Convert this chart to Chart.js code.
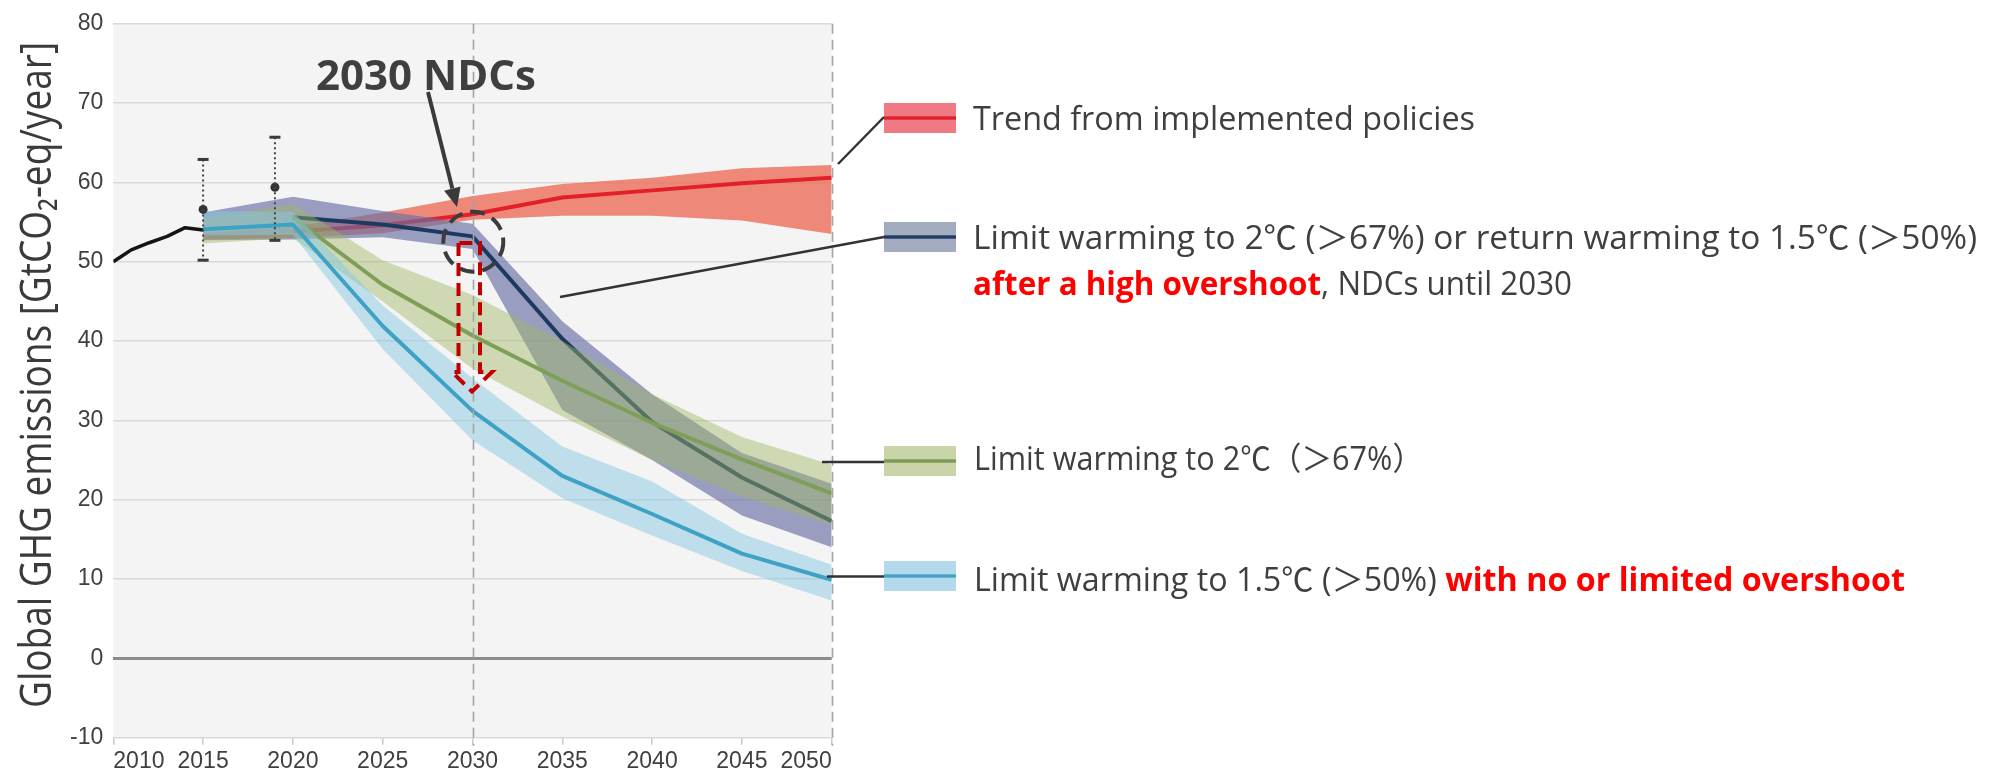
<!DOCTYPE html>
<html><head><meta charset="utf-8">
<script src="https://cdn.jsdelivr.net/npm/chart.js@4.4.1/dist/chart.umd.min.js"></script>
<style>html,body{margin:0;padding:0;background:#fff;}canvas{display:block;}</style>
</head><body>
<canvas id="c" width="2000" height="774" style="width:2000px;height:774px"></canvas>
<script>
// ---------------- data ----------------
const years = [2015, 2020, 2025, 2030, 2035, 2040, 2045, 2050];
const histYears = [2010, 2011, 2012, 2013, 2014, 2015];
const histValues = [50.0, 51.5, 52.4, 53.2, 54.3, 54.0];

const policyMid  = [null, 53.8, 54.6, 56.0, 58.1, 59.0, 59.9, 60.6];
const policyHigh = [53.6, 54.4, 56.2, 58.3, 59.8, 60.6, 61.8, 62.2];
const policyLow  = [52.8, 53.0, 53.6, 55.3, 55.8, 55.8, 55.2, 53.5];

const ndcMid  = [null, 55.6, 54.7, 53.2, 40.3, 29.8, 22.8, 17.3];
const ndcHigh = [56.2, 58.2, 56.4, 54.8, 42.5, 33.3, 25.9, 22.0];
const ndcLow  = [52.7, 52.8, 53.1, 51.6, 31.3, 25.0, 18.0, 14.0];

const c2Mid  = [null, 55.6, 47.1, 40.7, 35.0, 29.7, 25.1, 20.8];
const c2High = [55.5, 57.3, 50.2, 45.8, 40.0, 33.3, 27.9, 24.4];
const c2Low  = [52.3, 53.0, 45.0, 36.5, 30.5, 25.0, 20.4, 16.8];

const c15Mid  = [54.1, 54.7, 41.9, 31.2, 23.0, 18.2, 13.2, 9.9];
const c15High = [56.4, 56.3, 44.5, 35.3, 26.7, 22.3, 15.7, 11.8];
const c15Low  = [53.3, 53.4, 39.0, 27.5, 20.2, 15.5, 11.0, 7.3];

const estYears  = [2015, 2019];
const estValues = [56.6, 59.4];
const estLow    = [50.2, 52.7];
const estHigh   = [62.9, 65.7];

const xTicks = [2010, 2015, 2020, 2025, 2030, 2035, 2040, 2045, 2050];
const yMin = -10, yMax = 80, yStep = 10;
const markerYears = [2030, 2050];

const yTitle = 'Global GHG emissions [GtCO\u2082-eq/year]';
const legendItems = [
  {lines: [[{t: 'Trend from implemented policies'}]]},
  {lines: [[{t: 'Limit warming to 2\u2103 (\uFF1E67%) or return warming to 1.5\u2103 (\uFF1E50%)'}],
           [{t: 'after a high overshoot', bold: true, red: true}, {t: ', NDCs until 2030'}]]},
  {lines: [[{t: 'Limit warming to 2\u2103\uFF08\uFF1E67%\uFF09'}]]},
  {lines: [[{t: 'Limit warming to 1.5\u2103 (\uFF1E50%) '}, {t: 'with no or limited overshoot', bold: true, red: true}]]}
];
const noteText = '2030 NDCs';

// ---------------- helpers ----------------
function pts(xs, ys) {
  const out = [];
  xs.forEach((x, i) => { if (ys[i] !== null) out.push({x: x, y: ys[i]}); });
  return out;
}
const BG = '#f4f4f4';
const TXT = '#3f3f3f';
const FONT = '"Open Sans","Noto Sans CJK JP",sans-serif';

function lineDs(label, xs, ys, color, width, order) {
  return {label, data: pts(xs, ys), borderColor: color, borderWidth: width, pointRadius: 0,
          fill: false, order, tension: 0, borderJoinStyle: 'round', borderCapStyle: 'butt'};
}
function bandDs(label, xs, hi, lo, color, order) {
  return [
    {label: label + ' high', data: pts(xs, hi), borderColor: 'rgba(0,0,0,0)', borderWidth: 0.01,
     pointRadius: 0, fill: '+1', backgroundColor: color, order, tension: 0},
    {label: label + ' low', data: pts(xs, lo), borderColor: 'rgba(0,0,0,0)', borderWidth: 0.01,
     pointRadius: 0, fill: false, order, tension: 0}
  ];
}

const datasets = [
  lineDs('history', histYears, histValues, '#151515', 3.5, 0),
  {label: 'estimates', data: pts(estYears, estValues), showLine: false, pointRadius: 4.5,
   pointBackgroundColor: '#333', pointBorderWidth: 0, order: 0},
  lineDs('1.5C', years, c15Mid, '#3da2c3', 4, 1),
  ...bandDs('1.5C', years, c15High, c15Low, 'rgba(135,200,225,0.5)', 2),
  lineDs('2C', years, c2Mid, '#7f9e58', 4, 3),
  ...bandDs('2C', years, c2High, c2Low, 'rgba(160,185,100,0.45)', 4),
  lineDs('NDC', years, ndcMid, '#1c3a60', 4, 5),
  ...bandDs('NDC', years, ndcHigh, ndcLow, 'rgba(105,110,165,0.65)', 6),
  lineDs('policy', years, policyMid, '#e1202a', 4, 7),
  ...bandDs('policy', years, policyHigh, policyLow, 'rgba(236,110,90,0.8)', 8)
];

// ---------------- plugins ----------------
const bgPlugin = {
  id: 'bg',
  beforeDraw(chart) {
    const {ctx, chartArea: a} = chart;
    ctx.save(); ctx.fillStyle = BG; ctx.fillRect(a.left, a.top, a.right - a.left, a.bottom - a.top); ctx.restore();
  }
};

const overlayPlugin = {
  id: 'overlay',
  afterDatasetsDraw(chart) {
    const {ctx, chartArea: a, scales: {x, y}} = chart;
    ctx.save();
    // vertical dashed markers
    ctx.strokeStyle = '#a3a3a3'; ctx.lineWidth = 1.6; ctx.setLineDash([10, 6]);
    markerYears.forEach(v => {
      const px = Math.round(x.getPixelForValue(v)) + 0.5;
      ctx.beginPath(); ctx.moveTo(px, a.top); ctx.lineTo(px, a.bottom + 8); ctx.stroke();
    });
    // error bars
    ctx.strokeStyle = '#444'; ctx.lineWidth = 2; ctx.setLineDash([2, 3]);
    estYears.forEach((v, i) => {
      const px = x.getPixelForValue(v);
      ctx.beginPath(); ctx.moveTo(px, y.getPixelForValue(estHigh[i])); ctx.lineTo(px, y.getPixelForValue(estLow[i])); ctx.stroke();
    });
    ctx.setLineDash([]); ctx.lineWidth = 3; ctx.strokeStyle = '#3a3a3a';
    estYears.forEach((v, i) => {
      const px = x.getPixelForValue(v);
      [estHigh[i], estLow[i]].forEach(w => {
        const py = y.getPixelForValue(w);
        ctx.beginPath(); ctx.moveTo(px - 5.5, py); ctx.lineTo(px + 5.5, py); ctx.stroke();
      });
    });
    ctx.restore();
  },
  afterDraw(chart) {
    const ctx = chart.ctx;
    ctx.save();
    // ---- y axis title ----
    ctx.fillStyle = '#3a3a3a';
    ctx.font = '43px ' + FONT;
    const tw = ctx.measureText(yTitle).width;
    ctx.translate(51, 375); ctx.rotate(-Math.PI / 2); ctx.scale(666 / tw, 1);
    ctx.textAlign = 'center'; ctx.textBaseline = 'alphabetic';
    ctx.fillText(yTitle, 0, 0);
    ctx.restore();

    // ---- leader lines ----
    ctx.save();
    ctx.strokeStyle = '#333'; ctx.lineWidth = 2.5; ctx.lineCap = 'butt';
    const leaders = [[838, 164, 884, 117], [560, 297, 884, 237], [822, 462, 884, 462], [827, 576.5, 884, 576.5]];
    leaders.forEach(l => { ctx.beginPath(); ctx.moveTo(l[0], l[1]); ctx.lineTo(l[2], l[3]); ctx.stroke(); });

    // ---- swatches ----
    const sw = [
      {top: 103, bg: '#f07a84', ln: '#e21f2c'},
      {top: 222, bg: '#a4acc0', ln: '#1f3d63'},
      {top: 446, bg: '#c9d4a9', ln: '#7b9a55'},
      {top: 561, bg: '#b3daeb', ln: '#4aa2c4'}
    ];
    sw.forEach(s => {
      ctx.fillStyle = s.bg; ctx.fillRect(884, s.top, 72, 30);
      ctx.fillStyle = s.ln; ctx.fillRect(884, s.top + 13.3, 72, 3.4);
    });

    // ---- legend texts ----
    function rich(segs, x0, base, size, targetW) {
      let w = 0;
      segs.forEach(s => { ctx.font = (s.bold ? 'bold ' : '') + size + 'px ' + FONT; s.w = ctx.measureText(s.t).width; w += s.w; });
      const sx = targetW ? targetW / w : 1;
      ctx.save(); ctx.translate(x0, base); ctx.scale(sx, 1);
      let cx = 0;
      segs.forEach(s => {
        ctx.font = (s.bold ? 'bold ' : '') + size + 'px ' + FONT;
        ctx.fillStyle = s.red ? '#ff0000' : TXT;
        ctx.textBaseline = 'alphabetic'; ctx.textAlign = 'left';
        ctx.fillText(s.t, cx, 0); cx += s.w;
      });
      ctx.restore();
    }
    rich(legendItems[0].lines[0], 973, 130, 32, 502);
    rich(legendItems[1].lines[0], 973, 248.5, 32, 1004);
    rich(legendItems[1].lines[1], 973, 295, 32, 599);
    rich(legendItems[2].lines[0], 974, 470, 32, 449);
    rich(legendItems[3].lines[0], 974, 590.5, 32, 931);

    // ---- "2030 NDCs" label and arrow ----
    rich([{t: noteText, bold: true}], 316, 89.5, 41, 220);
    ctx.fillStyle = '#3a3a3a';
    ctx.strokeStyle = '#3a3a3a'; ctx.lineWidth = 4;
    const ax0 = 428, ay0 = 92, ax1 = 457, ay1 = 207;
    const ang = Math.atan2(ay1 - ay0, ax1 - ax0);
    const hl = 19, hw = 8.5;
    const bx = ax1 - hl * Math.cos(ang), by = ay1 - hl * Math.sin(ang);
    ctx.beginPath(); ctx.moveTo(ax0, ay0); ctx.lineTo(bx, by); ctx.stroke();
    ctx.beginPath();
    ctx.moveTo(ax1, ay1);
    ctx.lineTo(bx + hw * Math.sin(ang), by - hw * Math.cos(ang));
    ctx.lineTo(bx - hw * Math.sin(ang), by + hw * Math.cos(ang));
    ctx.closePath(); ctx.fill();

    // ---- dashed circle ----
    ctx.setLineDash([15, 8]); ctx.lineWidth = 4; ctx.strokeStyle = '#3c3c3c';
    ctx.beginPath(); ctx.arc(473.3, 241.7, 30, 0, Math.PI * 2); ctx.stroke();

    // ---- red dashed hollow arrow ----
    ctx.setLineDash([13, 7]); ctx.strokeStyle = '#c00000'; ctx.lineWidth = 4; ctx.lineJoin = 'miter';
    ctx.beginPath();
    ctx.moveTo(458.5, 243); ctx.lineTo(458.5, 372); ctx.lineTo(452, 372); ctx.lineTo(472, 391.5);
    ctx.lineTo(492, 372); ctx.lineTo(480, 372); ctx.lineTo(480, 243); ctx.closePath();
    ctx.stroke();
    ctx.restore();
  }
};

// ---------------- chart ----------------
const tickFont = {family: '"Liberation Sans Narrow","Arial Narrow","Liberation Sans",sans-serif', size: 23};
new Chart(document.getElementById('c'), {
  type: 'line',
  data: {datasets},
  options: {
    responsive: false, animation: false, events: [],
    layout: {padding: {top: 15.7, right: 1168.3, left: 0, bottom: 0}},
    plugins: {legend: {display: false}, tooltip: {enabled: false}, filler: {propagate: false}},
    scales: {
      x: {
        type: 'linear', min: 2010, max: 2050, offset: false,
        afterBuildTicks: s => { s.ticks = xTicks.map(v => ({value: v})); },
        afterFit: s => { s.height = 36.3; },
        grid: {display: true, drawOnChartArea: false, drawTicks: true, tickLength: 7, color: '#c9c9c9', lineWidth: 1.5},
        border: {display: false},
        ticks: {font: tickFont, color: TXT, padding: 3, autoSkip: false, maxRotation: 0, align: 'inner',
                callback: v => String(v)}
      },
      y: {
        type: 'linear', min: yMin, max: yMax,
        afterFit: s => { s.width = 113.3; },
        grid: {drawTicks: false, color: c => c.tick && c.tick.value === 0 ? '#8c8c8c' : '#d9d9d9',
               lineWidth: c => c.tick && c.tick.value === 0 ? 3 : 1.6},
        border: {display: false},
        ticks: {stepSize: yStep, font: tickFont, color: TXT, padding: 10}
      }
    }
  },
  plugins: [bgPlugin, overlayPlugin]
});
</script>
</body></html>
